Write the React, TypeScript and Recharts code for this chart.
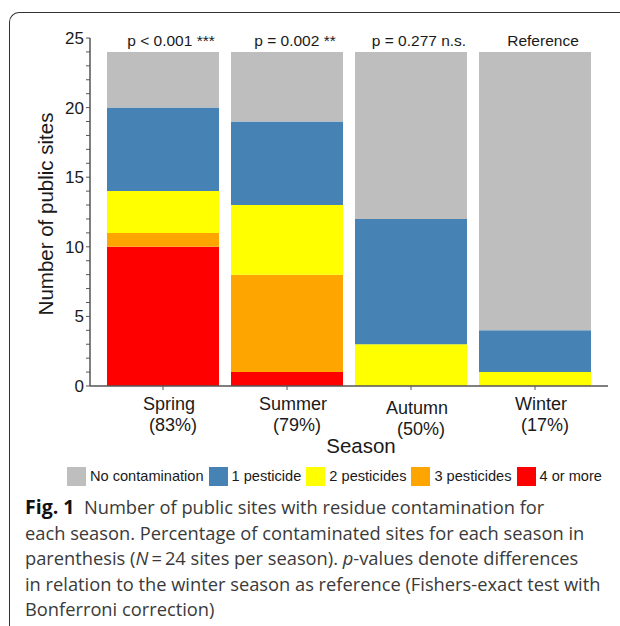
import React from 'react';
import { BarChart, Bar, XAxis, YAxis, Legend, LabelList } from 'recharts';

// sites per season (bottom to top)
const seasons = ['Spring', 'Summer', 'Autumn', 'Winter'];
const fourOrMore = [10, 1, 0, 0];
const threePesticides = [1, 7, 0, 0];
const twoPesticides = [3, 5, 3, 1];
const onePesticide = [6, 6, 9, 3];
const noContamination = [4, 5, 12, 20];
const pLabels = ['p < 0.001 ***', 'p = 0.002 **', 'p = 0.277 n.s.', 'Reference'];
const sitesPerSeason = 24;

const yTicks = [0, 1, 2, 3, 4, 5, 6, 7, 8, 9, 10, 11, 12, 13, 14, 15, 16, 17, 18, 19, 20, 21, 22, 23, 24, 25];
const yLabelTicks = [0, 5, 10, 15, 20, 25];

const data = seasons.map((season, i) => ({
  season,
  four: fourOrMore[i],
  three: threePesticides[i],
  two: twoPesticides[i],
  one: onePesticide[i],
  none: noContamination[i],
  pct: Math.round(((sitesPerSeason - noContamination[i]) / sitesPerSeason) * 100),
  p: pLabels[i],
}));

// stacking order, bottom first
const series = [
  { key: 'four', name: '4 or more', color: '#FF0000' },
  { key: 'three', name: '3 pesticides', color: '#FFA500' },
  { key: 'two', name: '2 pesticides', color: '#FFFF00' },
  { key: 'one', name: '1 pesticide', color: '#4682B4' },
  { key: 'none', name: 'No contamination', color: '#BEBEBE' },
];

const FONT = '"Liberation Sans", Arial, sans-serif';
const INK = '#1a1a1a';
const AXIS = '#555';

const SeasonTick = (props: any) => {
  const { x, y, payload, index } = props;
  const row = data[index] || data.find(d => d.season === payload.value);
  const drop = payload.value === 'Autumn' ? 4 : 0;
  return (
    <text x={x} y={y} textAnchor="middle" fontSize={18} fill={INK} fontFamily={FONT}>
      <tspan x={x + 6} dy={18 + drop}>{payload.value}</tspan>
      <tspan x={x + 10} dy={21}>({row ? row.pct : ''}%)</tspan>
    </text>
  );
};

const CountTick = (props: any) => {
  const { x, y, payload } = props;
  if (!yLabelTicks.includes(payload.value)) return <g />;
  return (
    <text x={x} y={y} dy={6} textAnchor="end" fontSize={17} fill={INK} fontFamily={FONT}>
      {payload.value}
    </text>
  );
};

const renderLegend = () => {
  const items = [...series].reverse();
  return (
    <div
      style={{
        display: 'flex',
        alignItems: 'center',
        height: 20,
        paddingLeft: 67,
        fontSize: 14.6,
        fontFamily: FONT,
        color: INK,
        whiteSpace: 'nowrap',
      }}
    >
      {items.map(s => (
        <div key={s.key} style={{ display: 'flex', alignItems: 'center', marginRight: 5 }}>
          <span style={{ display: 'inline-block', width: 19, height: 19, background: s.color, marginRight: 4 }} />
          <span>{s.name}</span>
        </div>
      ))}
    </div>
  );
};

const App = () => {
  return (
    <div
      style={{
        position: 'fixed',
        left: 0,
        top: 0,
        width: 620,
        height: 626,
        overflow: 'hidden',
        background: '#fff',
      }}
    >
      {/* figure frame */}
      <div
        style={{
          position: 'absolute',
          left: 9,
          top: 12,
          width: 700,
          height: 700,
          borderTop: '1px solid #333',
          borderLeft: '1px solid #333',
          borderTopLeftRadius: 10,
        }}
      />
      <div style={{ position: 'absolute', left: 0, top: 0 }}>
        <BarChart
          width={620}
          height={490}
          data={data}
          margin={{ top: 38, right: 12, left: 0, bottom: 4 }}
          style={{ fontFamily: FONT }}
        >
          <XAxis
            dataKey="season"
            height={80}
            padding={{ left: 11, right: 11 }}
            tick={<SeasonTick />}
            tickSize={4}
            axisLine={{ stroke: AXIS, strokeWidth: 1.5 }}
            tickLine={{ stroke: AXIS }}
            interval={0}
            label={{
              content: (p: any) => {
                const vb = p.viewBox || {};
                return (
                  <text
                    x={vb.x + vb.width / 2 + 12}
                    y={453}
                    textAnchor="middle"
                    fontSize={20.5}
                    fill={INK}
                    fontFamily={FONT}
                  >
                    Season
                  </text>
                );
              },
            }}
          />
          <YAxis
            width={90}
            domain={[0, 25]}
            ticks={yTicks}
            interval={0}
            tick={<CountTick />}
            tickSize={4}
            axisLine={{ stroke: AXIS, strokeWidth: 1.5 }}
            tickLine={{ stroke: AXIS }}
            label={{
              content: (p: any) => {
                const vb = p.viewBox || {};
                const cx = 45;
                const cy = vb.y + vb.height / 2 + 2;
                return (
                  <text
                    x={cx}
                    y={cy}
                    transform={`rotate(-90 ${cx} ${cy})`}
                    textAnchor="middle"
                    dominantBaseline="central"
                    fontSize={20.5}
                    fill={INK}
                    fontFamily={FONT}
                  >
                    Number of public sites
                  </text>
                );
              },
            }}
          />
          <Legend verticalAlign="bottom" content={renderLegend} wrapperStyle={{ left: 0, width: 620 }} />
          {series.map(s => (
            <Bar
              key={s.key}
              dataKey={s.key}
              name={s.name}
              stackId="sites"
              fill={s.color}
              barSize={112}
              isAnimationActive={false}
            >
              {s.key === 'none' && (
                <LabelList
                  dataKey="p"
                  content={(p: any) => (
                    <text
                      x={Number(p.x) + Number(p.width) / 2 + 8}
                      y={Number(p.y) - 6}
                      textAnchor="middle"
                      fontSize={15.5}
                      fill={INK}
                      fontFamily={FONT}
                    >
                      {p.value}
                    </text>
                  )}
                />
              )}
            </Bar>
          ))}
        </BarChart>
      </div>
      {/* caption */}
      <div
        style={{
          position: 'absolute',
          left: 25,
          top: 494,
          fontFamily: '"Open Sans", "Noto Sans", sans-serif',
          fontSize: 18.3,
          lineHeight: '25.5px',
          color: '#3a3a3a',
          whiteSpace: 'nowrap',
        }}
      >
        <div>
          <b style={{ color: '#111', fontSize: 19.5 }}>Fig. 1</b>&nbsp;&nbsp;Number of public sites with residue contamination for
        </div>
        <div>each season. Percentage of contaminated sites for each season in</div>
        <div>
          parenthesis (<i>N</i>{'\u2009=\u2009'}24 sites per season). <i>p</i>-values denote differences
        </div>
        <div>in relation to the winter season as reference (Fishers-exact test with</div>
        <div>Bonferroni correction)</div>
      </div>
    </div>
  );
};

export default App;
